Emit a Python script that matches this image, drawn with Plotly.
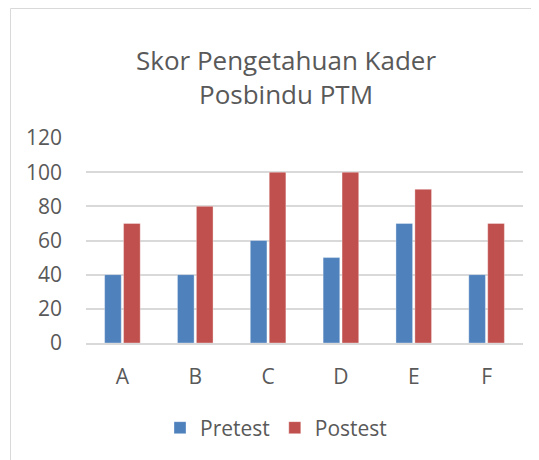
import plotly.graph_objects as go

categories = ["A", "B", "C", "D", "E", "F"]
pretest = [40, 40, 60, 50, 70, 40]
postest = [70, 80, 100, 100, 90, 70]
y_ticks = [0, 20, 40, 60, 80, 100, 120]
title_lines = ["Skor Pengetahuan Kader", "Posbindu PTM"]

W, H = 539, 460
OFF = 8  # page body margin offset
# plot area in page pixel coordinates
PL, PR, PT, PB = 86, 523, 138, 343
L, R, T, B = PL - OFF, PR - OFF, PT - OFF, PB - OFF
pw, ph = R - L, B - T

def px(x):  # page x -> paper
    return (x - OFF - L) / pw

def py(y):  # page y -> paper
    return (B - (y - OFF)) / ph

TXT = "#595959"
FONT = "Open Sans"

fig = go.Figure()
fig.add_trace(go.Bar(name="Pretest", x=categories, y=pretest,
                     marker=dict(color="#4F81BD", line=dict(color="rgba(255,255,255,0.35)", width=1))))
fig.add_trace(go.Bar(name="Postest", x=categories, y=postest,
                     marker=dict(color="#C0504D", line=dict(color="rgba(255,255,255,0.35)", width=1))))

fig.update_layout(
    width=W, height=H,
    margin=dict(l=L, r=W - R, t=T, b=H - B, pad=0),
    paper_bgcolor="white", plot_bgcolor="white",
    barmode="group", bargap=0.48, bargroupgap=0.12,
    font=dict(family=FONT, size=21, color=TXT),
    showlegend=True,
    legend=dict(orientation="h", x=px(276), xanchor="center",
                y=py(428), yanchor="middle",
                font=dict(family=FONT, size=21, color=TXT),
                itemwidth=30, tracegroupgap=0, bgcolor="rgba(0,0,0,0)"),
    xaxis=dict(showgrid=False, showline=True, linecolor="#D9D9D9", linewidth=1.5,
               ticks="", ticklabelstandoff=14, tickfont=dict(size=21, color=TXT)),
    yaxis=dict(range=[0, 120], tickvals=y_ticks, showgrid=True, gridcolor="#D9D9D9",
               gridwidth=1.5, zeroline=False, showline=False, ticks="",
               ticklabelstandoff=23, tickfont=dict(size=21, color=TXT)),
    shapes=[dict(type="rect", xref="paper", yref="paper",
                 x0=px(10.5), x1=px(580), y0=py(500), y1=py(8.5),
                 line=dict(color="#D9D9D9", width=1), fillcolor="rgba(0,0,0,0)", layer="below")],
)

fig.add_annotation(text="<br>".join(title_lines), xref="paper", yref="paper",
                   x=px(285.5), y=py(77), xanchor="center", yanchor="middle",
                   align="center", showarrow=False,
                   font=dict(family=FONT, size=26, color=TXT))

fig.write_html("out.html")
